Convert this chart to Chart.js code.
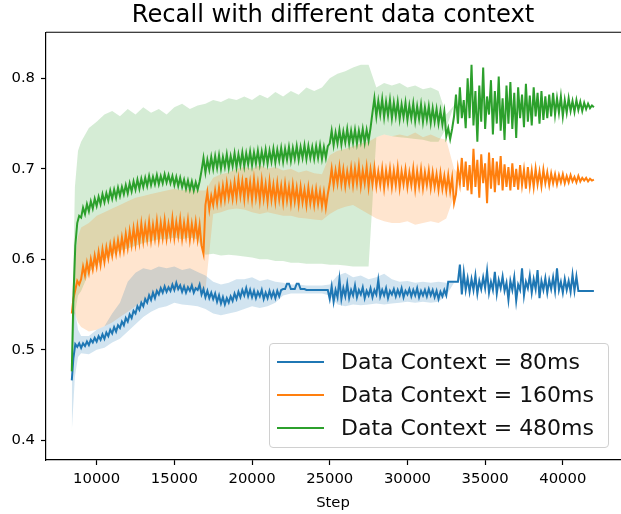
<!DOCTYPE html>
<html>
<head>
<meta charset="utf-8">
<script src="https://cdn.jsdelivr.net/npm/chart.js@4.4.1/dist/chart.umd.min.js"></script>
<style>
  body { margin: 0; background: #fff; }
  #wrap { position: relative; width: 621px; height: 514px; }
  #legend {
    position: absolute; left: 269px; top: 343px; width: 338px; height: 103px;
    background: rgba(255,255,255,0.8); border: 1px solid #d0d0d0; border-radius: 4px;
    font-family: "DejaVu Sans", sans-serif; font-size: 22px; color: #111;
  }
  .row { position: absolute; left: 0; height: 30px; line-height: 30px; white-space: nowrap; }
  .handle { position: absolute; left: 7px; top: 14px; width: 47px; height: 2px; }
  .label { position: absolute; left: 71px; top: 0; }
</style>
</head>
<body>
<div id="wrap">
  <canvas id="recallChart"></canvas>
  <div id="legend"></div>
</div>
<script>
// x positions (training step) of the mean curves
const steps = [8400, 8500, 8625, 8750, 8875,
  9000, 9125, 9250, 9375, 9500, 9625, 9750, 9875, 10000, 10125, 10250, 10375, 10500, 10625, 10750, 10875, 11000, 11125, 11250, 11375,
  11500, 11625, 11750, 11875, 12000, 12125, 12250, 12375, 12500, 12625, 12750, 12875, 13000, 13125, 13250, 13375, 13500, 13625, 13750, 13875,
  14000, 14125, 14250, 14375, 14500, 14625, 14750, 14875, 15000, 15125, 15250, 15375, 15500, 15625, 15750, 15875, 16000, 16125, 16250, 16375,
  16500, 16625, 16750, 16875, 17000, 17125, 17250, 17375, 17500, 17625, 17750, 17875, 18000, 18125, 18250, 18375, 18500, 18625, 18750, 18875,
  19000, 19125, 19250, 19375, 19500, 19625, 19750, 19875, 20000, 20125, 20250, 20375, 20500, 20625, 20750, 20875, 21000, 21125, 21250, 21375,
  21500, 21625, 21750, 21875, 22000, 22125, 22250, 22375, 22500, 22625, 22750, 22875, 23000, 23125, 23250, 23375, 23500, 23625, 23750, 23875,
  24000, 24125, 24250, 24375, 24500, 24625, 24750, 24875, 25000, 25125, 25250, 25375, 25500, 25625, 25750, 25875, 26000, 26125, 26250, 26375,
  26500, 26625, 26750, 26875, 27000, 27125, 27250, 27375, 27500, 27625, 27750, 27875, 28000, 28125, 28250, 28375, 28500, 28625, 28750, 28875,
  29000, 29125, 29250, 29375, 29500, 29625, 29750, 29875, 30000, 30125, 30250, 30375, 30500, 30625, 30750, 30875, 31000, 31125, 31250, 31375,
  31500, 31625, 31750, 31875, 32000, 32125, 32250, 32375, 32500, 32625, 32750, 32875, 33000, 33125, 33250, 33375, 33500, 33625, 33750, 33875,
  34000, 34125, 34250, 34375, 34500, 34625, 34750, 34875, 35000, 35125, 35250, 35375, 35500, 35625, 35750, 35875, 36000, 36125, 36250, 36375,
  36500, 36625, 36750, 36875, 37000, 37125, 37250, 37375, 37500, 37625, 37750, 37875, 38000, 38125, 38250, 38375, 38500, 38625, 38750, 38875,
  39000, 39125, 39250, 39375, 39500, 39625, 39750, 39875, 40000, 40125, 40250, 40375, 40500, 40625, 40750, 40875, 41000, 41125, 41250, 41375,
  41500, 41625, 41750, 41875, 42000];

// mean recall for each data context
const recall80 = [0.466, 0.490, 0.506, 0.503, 0.507,
  0.502, 0.507, 0.504, 0.509, 0.505, 0.511, 0.508, 0.513, 0.509, 0.515, 0.511, 0.517, 0.512, 0.519, 0.515, 0.522, 0.518, 0.525, 0.520, 0.527,
  0.524, 0.531, 0.527, 0.535, 0.531, 0.539, 0.535, 0.543, 0.540, 0.548, 0.544, 0.552, 0.548, 0.556, 0.552, 0.560, 0.555, 0.563, 0.557, 0.565,
  0.561, 0.568, 0.563, 0.570, 0.564, 0.569, 0.565, 0.572, 0.566, 0.574, 0.567, 0.571, 0.564, 0.570, 0.563, 0.569, 0.565, 0.571, 0.563, 0.568,
  0.566, 0.572, 0.561, 0.567, 0.558, 0.565, 0.557, 0.563, 0.556, 0.562, 0.553, 0.560, 0.551, 0.558, 0.550, 0.557, 0.552, 0.559, 0.554, 0.562,
  0.556, 0.564, 0.558, 0.566, 0.560, 0.568, 0.559, 0.566, 0.558, 0.565, 0.557, 0.564, 0.559, 0.566, 0.556, 0.563, 0.557, 0.565, 0.558, 0.564,
  0.557, 0.565, 0.559, 0.566, 0.567, 0.567, 0.573, 0.573, 0.567, 0.567, 0.567, 0.573, 0.573, 0.567, 0.567, 0.567, 0.566, 0.566, 0.566, 0.566,
  0.566, 0.566, 0.566, 0.566, 0.566, 0.566, 0.566, 0.566, 0.556, 0.570, 0.553, 0.566, 0.558, 0.578, 0.556, 0.568, 0.559, 0.573, 0.557, 0.566,
  0.560, 0.571, 0.558, 0.566, 0.561, 0.569, 0.557, 0.565, 0.560, 0.568, 0.558, 0.566, 0.561, 0.577, 0.559, 0.566, 0.560, 0.568, 0.557, 0.565,
  0.561, 0.567, 0.559, 0.566, 0.560, 0.568, 0.558, 0.565, 0.561, 0.567, 0.559, 0.566, 0.560, 0.568, 0.558, 0.565, 0.560, 0.566, 0.559, 0.567,
  0.560, 0.566, 0.558, 0.565, 0.556, 0.564, 0.559, 0.566, 0.560, 0.575, 0.575, 0.575, 0.575, 0.575, 0.575, 0.594, 0.561, 0.585, 0.566, 0.579,
  0.564, 0.578, 0.566, 0.582, 0.562, 0.576, 0.567, 0.580, 0.568, 0.587, 0.563, 0.575, 0.566, 0.586, 0.562, 0.577, 0.568, 0.581, 0.565, 0.574,
  0.555, 0.576, 0.566, 0.580, 0.554, 0.572, 0.566, 0.590, 0.560, 0.575, 0.568, 0.582, 0.563, 0.578, 0.567, 0.588, 0.557, 0.576, 0.566, 0.579,
  0.563, 0.577, 0.567, 0.580, 0.565, 0.590, 0.566, 0.575, 0.563, 0.578, 0.566, 0.576, 0.564, 0.583, 0.565, 0.581, 0.565, 0.565, 0.565, 0.565,
  0.565, 0.565, 0.565, 0.565, 0.565];

const recall160 = [0.540, 0.556, 0.566, 0.576, 0.572,
  0.578, 0.592, 0.582, 0.596, 0.585, 0.600, 0.589, 0.604, 0.592, 0.608, 0.594, 0.611, 0.597, 0.613, 0.601, 0.616, 0.604, 0.619, 0.606, 0.621,
  0.608, 0.624, 0.610, 0.628, 0.613, 0.631, 0.616, 0.634, 0.617, 0.636, 0.619, 0.639, 0.620, 0.637, 0.622, 0.641, 0.621, 0.638, 0.623, 0.642,
  0.622, 0.640, 0.624, 0.643, 0.623, 0.639, 0.625, 0.645, 0.624, 0.641, 0.626, 0.644, 0.623, 0.640, 0.625, 0.643, 0.622, 0.639, 0.624, 0.641,
  0.622, 0.638, 0.615, 0.606, 0.660, 0.674, 0.655, 0.670, 0.660, 0.676, 0.662, 0.679, 0.664, 0.681, 0.666, 0.684, 0.668, 0.682, 0.667, 0.685,
  0.668, 0.688, 0.670, 0.686, 0.667, 0.690, 0.669, 0.685, 0.666, 0.688, 0.668, 0.684, 0.665, 0.687, 0.667, 0.683, 0.664, 0.686, 0.666, 0.682,
  0.664, 0.684, 0.666, 0.681, 0.663, 0.683, 0.665, 0.680, 0.662, 0.682, 0.664, 0.679, 0.661, 0.680, 0.663, 0.677, 0.660, 0.679, 0.662, 0.676,
  0.660, 0.677, 0.661, 0.675, 0.659, 0.674, 0.657, 0.672, 0.684, 0.700, 0.682, 0.698, 0.684, 0.702, 0.683, 0.699, 0.681, 0.697, 0.684, 0.701,
  0.682, 0.700, 0.684, 0.703, 0.681, 0.698, 0.684, 0.702, 0.680, 0.699, 0.683, 0.701, 0.681, 0.697, 0.682, 0.700, 0.679, 0.698, 0.683, 0.700,
  0.680, 0.698, 0.682, 0.701, 0.679, 0.697, 0.683, 0.699, 0.680, 0.696, 0.682, 0.700, 0.678, 0.697, 0.681, 0.699, 0.679, 0.696, 0.682, 0.698,
  0.679, 0.696, 0.680, 0.694, 0.677, 0.695, 0.678, 0.692, 0.676, 0.693, 0.675, 0.690, 0.662, 0.672, 0.700, 0.684, 0.712, 0.680, 0.708, 0.676,
  0.704, 0.672, 0.722, 0.680, 0.710, 0.668, 0.716, 0.684, 0.706, 0.662, 0.718, 0.678, 0.712, 0.674, 0.708, 0.682, 0.714, 0.676, 0.705, 0.680,
  0.702, 0.676, 0.706, 0.680, 0.700, 0.677, 0.704, 0.682, 0.699, 0.678, 0.702, 0.681, 0.698, 0.680, 0.700, 0.683, 0.697, 0.681, 0.699, 0.684,
  0.696, 0.682, 0.695, 0.684, 0.694, 0.683, 0.693, 0.685, 0.694, 0.684, 0.692, 0.685, 0.693, 0.686, 0.691, 0.685, 0.692, 0.686, 0.690, 0.687,
  0.690, 0.686, 0.689, 0.687, 0.688];

const recall480 = [0.476, 0.555, 0.615, 0.640, 0.648,
  0.646, 0.657, 0.650, 0.661, 0.653, 0.664, 0.656, 0.667, 0.659, 0.669, 0.661, 0.672, 0.663, 0.673, 0.665, 0.676, 0.667, 0.677, 0.668, 0.679,
  0.670, 0.680, 0.672, 0.682, 0.673, 0.684, 0.675, 0.686, 0.677, 0.688, 0.678, 0.689, 0.680, 0.690, 0.681, 0.692, 0.682, 0.691, 0.683, 0.693,
  0.683, 0.692, 0.684, 0.694, 0.685, 0.693, 0.684, 0.692, 0.682, 0.691, 0.681, 0.690, 0.680, 0.688, 0.678, 0.687, 0.677, 0.686, 0.676, 0.685,
  0.677, 0.686, 0.698, 0.712, 0.696, 0.710, 0.699, 0.713, 0.700, 0.714, 0.701, 0.715, 0.700, 0.713, 0.702, 0.716, 0.701, 0.714, 0.703, 0.717,
  0.702, 0.716, 0.704, 0.718, 0.703, 0.717, 0.705, 0.719, 0.704, 0.718, 0.706, 0.720, 0.705, 0.719, 0.707, 0.721, 0.706, 0.720, 0.708, 0.722,
  0.707, 0.721, 0.709, 0.723, 0.708, 0.722, 0.710, 0.724, 0.709, 0.723, 0.711, 0.725, 0.710, 0.724, 0.712, 0.726, 0.711, 0.725, 0.712, 0.724,
  0.711, 0.725, 0.712, 0.726, 0.711, 0.724, 0.712, 0.725, 0.728, 0.742, 0.726, 0.740, 0.728, 0.743, 0.727, 0.741, 0.729, 0.744, 0.728, 0.742,
  0.729, 0.743, 0.728, 0.742, 0.730, 0.744, 0.729, 0.743, 0.731, 0.745, 0.762, 0.778, 0.758, 0.775, 0.760, 0.777, 0.757, 0.774, 0.759, 0.776,
  0.756, 0.773, 0.758, 0.774, 0.755, 0.771, 0.757, 0.773, 0.754, 0.770, 0.756, 0.772, 0.753, 0.769, 0.755, 0.771, 0.752, 0.768, 0.754, 0.769,
  0.751, 0.767, 0.752, 0.766, 0.750, 0.764, 0.749, 0.763, 0.736, 0.745, 0.733, 0.744, 0.758, 0.782, 0.750, 0.790, 0.756, 0.776, 0.745, 0.800,
  0.756, 0.815, 0.748, 0.786, 0.730, 0.792, 0.752, 0.812, 0.744, 0.780, 0.760, 0.798, 0.738, 0.786, 0.750, 0.802, 0.742, 0.778, 0.732, 0.792,
  0.750, 0.796, 0.744, 0.784, 0.734, 0.790, 0.756, 0.782, 0.746, 0.794, 0.752, 0.781, 0.748, 0.790, 0.758, 0.784, 0.750, 0.786, 0.754, 0.780,
  0.756, 0.782, 0.758, 0.784, 0.760, 0.778, 0.762, 0.780, 0.758, 0.776, 0.762, 0.778, 0.764, 0.775, 0.763, 0.776, 0.765, 0.774, 0.764, 0.773,
  0.766, 0.772, 0.767, 0.770, 0.768];

// x positions of the spread bands (coarser)
const bandSteps = [8400, 8600, 8800, 9000,
  9500, 10000, 10500, 11000, 11500, 12000, 12500, 13000, 13500, 14000,
  14500, 15000, 15500, 16000, 16500, 17000, 17500, 18000, 18500, 19000,
  19500, 20000, 20500, 21000, 21500, 22000, 22500, 23000, 23500, 24000,
  24500, 25000, 25500, 26000, 26500, 27000, 27500, 28000, 28500, 29000,
  29500, 30000, 30500, 31000, 31500, 32000, 32500, 33000, 33500, 34000,
  34500, 35000, 35500, 36000, 36500, 37000, 37500, 38000, 38500, 39000,
  39500, 40000, 40500, 41000, 41500, 42000];

const low80 = [0.410, 0.470, 0.492, 0.496,
  0.495, 0.500, 0.502, 0.508, 0.512, 0.520, 0.528, 0.536, 0.542, 0.546,
  0.548, 0.552, 0.550, 0.549, 0.548, 0.545, 0.540, 0.538, 0.540, 0.542,
  0.545, 0.548, 0.546, 0.548, 0.552, 0.560, 0.562, 0.562, 0.562, 0.562,
  0.562, 0.560, 0.550, 0.548, 0.550, 0.549, 0.550, 0.551, 0.550, 0.551,
  0.552, 0.553, 0.552, 0.553, 0.552, 0.553, 0.560, 0.574, 0.566, 0.566,
  0.568, 0.568, 0.568, 0.568, 0.568, 0.568, 0.568, 0.568, 0.568, 0.568,
  0.566, 0.566, 0.566, 0.566, 0.566, 0.566];
const high80 = [0.530, 0.545, 0.522, 0.515,
  0.515, 0.522, 0.526, 0.540, 0.552, 0.575, 0.585, 0.590, 0.588, 0.592,
  0.590, 0.592, 0.588, 0.590, 0.586, 0.582, 0.575, 0.572, 0.574, 0.578,
  0.578, 0.580, 0.576, 0.578, 0.575, 0.574, 0.572, 0.572, 0.571, 0.571,
  0.571, 0.572, 0.582, 0.585, 0.580, 0.582, 0.578, 0.580, 0.584, 0.578,
  0.575, 0.576, 0.574, 0.575, 0.574, 0.575, 0.574, 0.574, 0.566, 0.566,
  0.568, 0.568, 0.568, 0.568, 0.568, 0.568, 0.568, 0.568, 0.568, 0.568,
  0.566, 0.566, 0.566, 0.566, 0.566, 0.566];

const low160 = [0.530, 0.540, 0.530, 0.525,
  0.520, 0.522, 0.526, 0.530, 0.536, 0.542, 0.548, 0.554, 0.558, 0.562,
  0.565, 0.566, 0.567, 0.566, 0.566, 0.566, 0.650, 0.652, 0.655, 0.656,
  0.655, 0.652, 0.650, 0.652, 0.650, 0.648, 0.648, 0.646, 0.645, 0.644,
  0.643, 0.650, 0.655, 0.658, 0.660, 0.655, 0.650, 0.645, 0.642, 0.640,
  0.640, 0.642, 0.638, 0.640, 0.642, 0.640, 0.645, 0.670, 0.690, 0.690,
  0.690, 0.690, 0.690, 0.690, 0.690, 0.690, 0.690, 0.690, 0.690, 0.690,
  0.688, 0.688, 0.688, 0.688, 0.688, 0.688];
const high160 = [0.560, 0.600, 0.625, 0.635,
  0.640, 0.648, 0.652, 0.656, 0.660, 0.664, 0.668, 0.670, 0.672, 0.674,
  0.676, 0.678, 0.676, 0.678, 0.676, 0.676, 0.690, 0.694, 0.696, 0.700,
  0.702, 0.700, 0.704, 0.700, 0.702, 0.698, 0.700, 0.696, 0.698, 0.695,
  0.694, 0.715, 0.720, 0.722, 0.725, 0.728, 0.730, 0.735, 0.738, 0.736,
  0.738, 0.736, 0.740, 0.735, 0.738, 0.734, 0.732, 0.700, 0.690, 0.690,
  0.690, 0.690, 0.690, 0.690, 0.690, 0.690, 0.690, 0.690, 0.690, 0.690,
  0.688, 0.688, 0.688, 0.688, 0.688, 0.688];

const low480 = [0.470, 0.540, 0.560, 0.565,
  0.585, 0.595, 0.600, 0.605, 0.610, 0.612, 0.615, 0.618, 0.620, 0.622,
  0.622, 0.624, 0.622, 0.624, 0.622, 0.605, 0.606, 0.604, 0.605, 0.604,
  0.603, 0.602, 0.600, 0.600, 0.598, 0.598, 0.596, 0.596, 0.595, 0.595,
  0.595, 0.594, 0.594, 0.593, 0.592, 0.592, 0.592, 0.735, 0.738, 0.736,
  0.735, 0.734, 0.733, 0.732, 0.730, 0.730, 0.745, 0.770, 0.775, 0.775,
  0.770, 0.770, 0.770, 0.770, 0.770, 0.770, 0.770, 0.770, 0.770, 0.770,
  0.768, 0.768, 0.768, 0.768, 0.768, 0.768];
const high480 = [0.500, 0.680, 0.720, 0.730,
  0.745, 0.752, 0.760, 0.764, 0.758, 0.766, 0.760, 0.768, 0.762, 0.766,
  0.760, 0.768, 0.772, 0.766, 0.770, 0.772, 0.776, 0.774, 0.778, 0.776,
  0.780, 0.776, 0.782, 0.778, 0.785, 0.780, 0.786, 0.782, 0.790, 0.786,
  0.790, 0.800, 0.805, 0.808, 0.812, 0.815, 0.815, 0.790, 0.795, 0.792,
  0.795, 0.790, 0.792, 0.788, 0.790, 0.786, 0.760, 0.770, 0.775, 0.775,
  0.770, 0.770, 0.770, 0.770, 0.770, 0.770, 0.770, 0.770, 0.770, 0.770,
  0.768, 0.768, 0.768, 0.768, 0.768, 0.768];

const seriesNames = ['Data Context = 80ms', 'Data Context = 160ms', 'Data Context = 480ms'];
const seriesColors = ['#1f77b4', '#ff7f0e', '#2ca02c'];
const bandColors = ['rgba(31,119,180,0.2)', 'rgba(255,127,14,0.2)', 'rgba(44,160,44,0.2)'];

const xTicks = [10000, 15000, 20000, 25000, 30000, 35000, 40000];
const yTicks = [0.4, 0.5, 0.6, 0.7, 0.8];

function toPoints(xs, ys) {
    return xs.map((x, i) => ({ x: x, y: ys[i] }));
}

const means = [recall80, recall160, recall480];
const lows = [low80, low160, low480];
const highs = [high80, high160, high480];

// bands first (lower + upper pair filled together), then lines on top
const datasets = [];
for (let s = 0; s < 3; s++) {
    datasets.push({
        data: toPoints(bandSteps, lows[s]),
        borderWidth: 0, pointRadius: 0, fill: false, order: 10 + s * 2
    });
    datasets.push({
        data: toPoints(bandSteps, highs[s]),
        borderWidth: 0, pointRadius: 0,
        fill: datasets.length - 1,
        backgroundColor: bandColors[s], order: 10 + s * 2
    });
}
for (let s = 0; s < 3; s++) {
    datasets.push({
        label: seriesNames[s],
        data: toPoints(steps, means[s]),
        borderColor: seriesColors[s],
        borderWidth: 2,
        pointRadius: 0,
        fill: false,
        order: 3 - s   // green ends up drawn last
    });
}

// top spine like matplotlib's box
const topSpine = {
    id: 'topSpine',
    afterDraw(chart) {
        const a = chart.chartArea, ctx = chart.ctx;
        ctx.save();
        ctx.strokeStyle = '#000';
        ctx.lineWidth = 1.2;
        ctx.beginPath();
        ctx.moveTo(a.left, a.top);
        ctx.lineTo(a.right + 2, a.top);
        ctx.stroke();
        ctx.restore();
    }
};

const font = 'DejaVu Sans';
new Chart(document.getElementById('recallChart').getContext('2d'), {
    type: 'line',
    data: { datasets: datasets },
    options: {
        responsive: true,
        maintainAspectRatio: false,
        animation: false,
        layout: { padding: { left: 0, right: 1, top: 0, bottom: 0 } },
        elements: { line: { tension: 0 } },
        scales: {
            x: {
                type: 'linear',
                min: 6740,
                max: 43680,
                afterBuildTicks: scale => { scale.ticks = xTicks.map(v => ({ value: v })); },
                afterFit: scale => { scale.height = 54; },
                grid: { drawOnChartArea: false, tickLength: 5, tickColor: '#000', tickWidth: 1.2 },
                border: { color: '#000', width: 1.2 },
                ticks: {
                    color: '#000', padding: 5, maxRotation: 0,
                    font: { family: font, size: 14.8 },
                    callback: v => String(v)
                },
                title: {
                    display: true, text: 'Step', color: '#000',
                    font: { family: font, size: 14.8 },
                    padding: { top: 0, bottom: 2 }
                }
            },
            y: {
                min: 0.378,
                max: 0.851,
                afterBuildTicks: scale => { scale.ticks = yTicks.map(v => ({ value: v })); },
                afterFit: scale => { scale.width = 46; },
                grid: { drawOnChartArea: false, tickLength: 5, tickColor: '#000', tickWidth: 1.2 },
                border: { color: '#000', width: 1.2 },
                ticks: {
                    color: '#000', padding: 6,
                    font: { family: font, size: 14.8 },
                    callback: v => v.toFixed(1)
                }
            }
        },
        plugins: {
            legend: { display: false },
            tooltip: { enabled: false },
            title: {
                display: true,
                fullSize: false,
                text: 'Recall with different data context',
                color: '#000',
                font: { family: font, size: 24.2, weight: 'normal' },
                padding: { top: 1, bottom: 2.2 }
            }
        }
    },
    plugins: [topSpine]
});

// legend drawn inside the axes, lower right
const legend = document.getElementById('legend');
seriesNames.forEach((name, i) => {
    const row = document.createElement('div');
    row.className = 'row';
    row.style.top = (3 + i * 33) + 'px';
    row.innerHTML = '<div class="handle" style="background:' + seriesColors[i] + '"></div>' +
        '<span class="label">' + name + '</span>';
    legend.appendChild(row);
});
</script>
</body>
</html>
